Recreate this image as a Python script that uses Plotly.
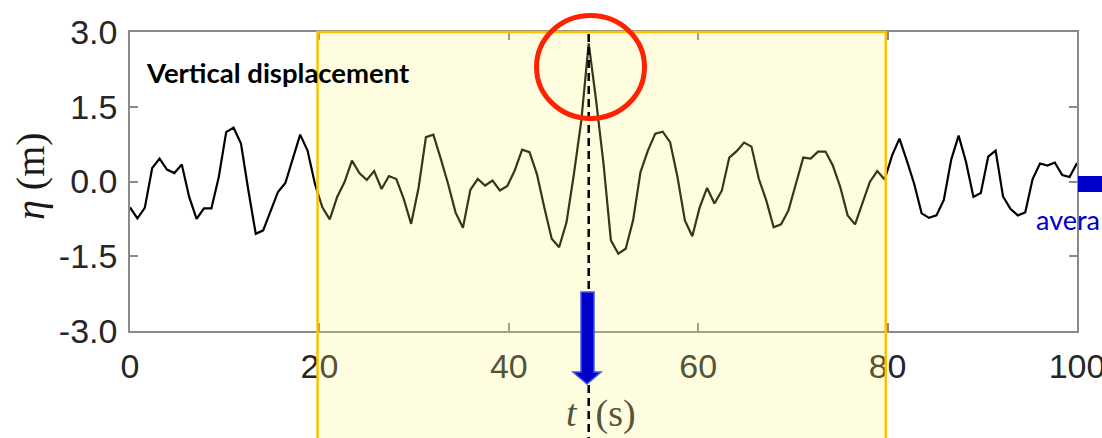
import plotly.graph_objects as go

# Surface elevation record (m), sampled every dt seconds
dt = 100 / 128
eta = [
    -0.52, -0.74, -0.53, 0.27, 0.46, 0.24, 0.17, 0.34, -0.31, -0.75,
    -0.54, -0.54, 0.09, 0.99, 1.08, 0.76, -0.18, -1.05, -0.98, -0.58,
    -0.21, -0.03, 0.46, 0.94, 0.62, -0.05, -0.52, -0.76, -0.31, -0.01,
    0.42, 0.17, 0.03, 0.21, -0.15, 0.11, 0.05, -0.35, -0.85, -0.13,
    0.89, 0.94, 0.46, -0.05, -0.62, -0.93, -0.17, 0.05, -0.08, 0.02,
    -0.18, -0.09, 0.22, 0.64, 0.59, 0.15, -0.52, -1.15, -1.32, -0.82,
    0.15, 1.22, 2.77, 1.63, 0.36, -1.18, -1.45, -1.35, -0.78, 0.19,
    0.62, 0.96, 1.00, 0.79, 0.09, -0.78, -1.10, -0.52, -0.13, -0.44,
    -0.18, 0.48, 0.61, 0.78, 0.70, 0.05, -0.38, -0.92, -0.86, -0.58,
    -0.05, 0.48, 0.46, 0.60, 0.60, 0.32, -0.11, -0.68, -0.86, -0.44,
    -0.01, 0.21, 0.04, 0.52, 0.86, 0.42, -0.05, -0.64, -0.73, -0.68,
    -0.37, 0.44, 0.92, 0.39, -0.31, -0.23, 0.50, 0.62, -0.30, -0.55,
    -0.68, -0.62, 0.05, 0.36, 0.32, 0.38, 0.13, 0.09, 0.37,
]
t = [i * dt for i in range(len(eta))]

# Analysis window (s)
window_start, window_end = 19.8, 79.8

x_ticks = [0, 20, 40, 60, 80, 100]
y_ticks = [-3.0, -1.5, 0.0, 1.5, 3.0]

# Time of the largest crest
i_peak = max(range(len(eta)), key=lambda i: eta[i])
t_peak = t[i_peak]

# Plot-area box in pixels, used to place the decorations
W, H = 1102, 438
L, R, T, B = 130, 1077, 32, 331


def px(x):
    return (x - L) / (R - L)


def py(y):
    return (B - y) / (B - T)


fig = go.Figure()
fig.add_trace(go.Scatter(
    x=t, y=eta, mode="lines",
    line=dict(color="black", width=2.2),
    hoverinfo="skip", showlegend=False,
))

axis_common = dict(
    showline=True, linecolor="#8a8a8a", linewidth=1.5, mirror="ticks",
    ticks="inside", ticklen=8, tickwidth=1.5, tickcolor="#8a8a8a",
    showgrid=False, zeroline=False, automargin=False,
    tickfont=dict(family="Liberation Sans, Arial, sans-serif", size=34, color="#262626"),
)

fig.update_xaxes(range=[0, 100], tickvals=x_ticks, ticktext=[str(v) for v in x_ticks],
                 ticklabelstandoff=4, ticklabeloverflow="allow", **axis_common)
fig.update_yaxes(range=[-3, 3], tickvals=y_ticks, ticktext=[f"{v:.1f}" for v in y_ticks],
                 ticklabelstandoff=4, **axis_common)

shapes = [
    # highlighted window
    dict(type="rect", xref="x", yref="paper", x0=window_start, x1=window_end,
         y0=py(445), y1=1, layer="above",
         fillcolor="rgba(255,245,110,0.22)", line=dict(color="#FFC000", width=2.5)),
    # marker at the time of the maximum crest
    dict(type="line", xref="x", yref="paper", x0=t_peak, x1=t_peak,
         y0=py(445), y1=1, layer="above",
         line=dict(color="black", width=2.5, dash="8px,5px")),
    # ring around the crest
    dict(type="circle", xref="paper", yref="paper",
         x0=px(536.5), x1=px(644.5), y0=py(118.5), y1=py(15.5), layer="above",
         line=dict(color="#FF2200", width=5)),
    # downward arrow
    dict(type="path", xref="paper", yref="paper", layer="above",
         path=("M {a},{b} L {c},{b} L {c},{d} L {e},{d} L {f},{g} L {h},{d} L {a},{d} Z").format(
             a=px(581), b=py(292), c=px(594), d=py(372), e=px(601), f=px(587), g=py(384), h=px(573)),
         fillcolor="#0000CC", line=dict(color="#3D5BE0", width=1.5)),
    # arrow stub at the right edge
    dict(type="rect", xref="paper", yref="paper",
         x0=px(1078), x1=px(1110), y0=py(192), y1=py(176), layer="above",
         fillcolor="#0000CC", line=dict(width=0)),
]

annotations = [
    dict(text="Vertical displacement", xref="paper", yref="paper",
         x=px(144), y=py(72), xanchor="left", yanchor="middle", showarrow=False,
         font=dict(family="Lato, Open Sans, sans-serif", size=27.5, color="black", weight=700)),
    dict(text="avera", xref="paper", yref="paper",
         x=px(1102), y=py(219), xanchor="right", yanchor="middle", showarrow=False,
         font=dict(family="Lato, Open Sans, sans-serif", size=27, color="#0000CC")),
    dict(text="<i>η</i> (m)", xref="paper", yref="paper", textangle=-90,
         x=px(30), y=py(176), xanchor="center", yanchor="middle", showarrow=False,
         font=dict(family="Liberation Serif, serif", size=40, color="#1a1a1a")),
    dict(text="<i>t</i>\u00a0\u00a0(s)", xref="paper", yref="paper",
         x=px(601), y=py(413), xanchor="center", yanchor="middle", showarrow=False,
         font=dict(family="Liberation Serif, serif", size=38, color="#55553a")),
]

fig.update_layout(
    width=W, height=H,
    margin=dict(l=L, r=W - R, t=T, b=H - B, pad=0, autoexpand=False),
    paper_bgcolor="white", plot_bgcolor="white",
    shapes=shapes, annotations=annotations,
    showlegend=False,
)

fig.write_html("out.html")
